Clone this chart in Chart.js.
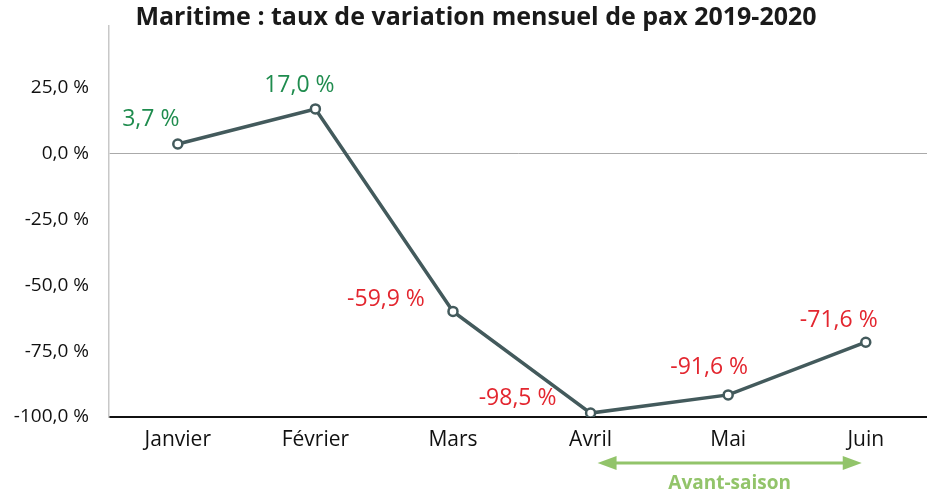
<!DOCTYPE html>
<html>
<head>
<meta charset="utf-8">
<script src="https://cdn.jsdelivr.net/npm/chart.js@4"></script>
<style>
html,body{margin:0;padding:0;background:#fff;}
#wrap{width:927px;height:495px;}
</style>
</head>
<body>
<div id="wrap"><canvas id="c" width="927" height="495"></canvas></div>
<script>
const titleText = "Maritime : taux de variation mensuel de pax 2019-2020";
const categories = ["Janvier", "Février", "Mars", "Avril", "Mai", "Juin"];
const variation = [3.7, 17.0, -59.9, -98.5, -91.6, -71.6];
const yTicks = [-100, -75, -50, -25, 0, 25];
const seasonLabel = "Avant-saison";
const seasonFrom = "Avril";
const seasonTo = "Juin";

const FONT = "'Open Sans', sans-serif";
const fmt = v => v.toFixed(1).replace('.', ',') + ' %';
// label offsets (dx, dy) relative to each point
const labelOffsets = [[-27,-25],[-16,-23],[-67,-12],[-73,-15],[-19,-27],[-27,-22]];

const overlay = {
  id: 'overlay',
  afterDatasetsDraw(chart) {
    const ctx = chart.ctx;
    const meta = chart.getDatasetMeta(0);
    ctx.save();
    ctx.font = "23px " + FONT;
    ctx.textAlign = 'center';
    ctx.textBaseline = 'middle';
    meta.data.forEach((pt, i) => {
      const v = variation[i];
      ctx.fillStyle = v >= 0 ? '#1f8c4e' : '#e3262f';
      const o = labelOffsets[i];
      ctx.fillText(fmt(v), pt.x + o[0], pt.y + o[1]);
    });
    // title
    ctx.fillStyle = '#1a1a1a';
    ctx.font = "bold 25px " + FONT;
    ctx.fillText(titleText, 476, 18);
    // season arrow
    const xs = chart.scales.x;
    const x1 = xs.getPixelForValue(categories.indexOf(seasonFrom)) + 7;
    const x2 = xs.getPixelForValue(categories.indexOf(seasonTo)) - 4;
    const y = 463;
    ctx.strokeStyle = '#92c46a';
    ctx.fillStyle = '#92c46a';
    ctx.lineWidth = 3;
    ctx.beginPath();
    ctx.moveTo(x1 + 14, y);
    ctx.lineTo(x2 - 14, y);
    ctx.stroke();
    ctx.beginPath();
    ctx.moveTo(x1, y); ctx.lineTo(x1 + 19, y - 7); ctx.lineTo(x1 + 19, y + 7); ctx.closePath(); ctx.fill();
    ctx.beginPath();
    ctx.moveTo(x2, y); ctx.lineTo(x2 - 19, y - 7); ctx.lineTo(x2 - 19, y + 7); ctx.closePath(); ctx.fill();
    ctx.font = "bold 19px " + FONT;
    ctx.fillText(seasonLabel, (x1 + x2) / 2, 484);
    ctx.restore();
  }
};

new Chart(document.getElementById('c'), {
  type: 'line',
  data: {
    datasets: [{
      data: variation.map((v, i) => ({x: i, y: v})),
      borderColor: '#435a5c',
      borderWidth: 3.5,
      pointRadius: 4.5,
      pointBackgroundColor: '#ffffff',
      pointBorderColor: '#435a5c',
      pointBorderWidth: 2.5,
      tension: 0
    }]
  },
  options: {
    responsive: false,
    animation: false,
    layout: {autoPadding: false, padding: {top: 26, left: 0, right: 0, bottom: 0}},
    plugins: {legend: {display: false}, tooltip: {enabled: false}, title: {display: false}},
    scales: {
      x: {
        type: 'linear',
        min: -0.5,
        max: 5.445,
        afterFit: s => { s.height = 78; s.paddingRight = 0; s.paddingLeft = 0; },
        afterBuildTicks: s => { s.ticks = categories.map((c, i) => ({value: i})); },
        ticks: {
          callback: v => categories[v],
          color: '#111',
          font: {family: FONT, size: 21},
          padding: 10,
          autoSkip: false,
          maxRotation: 0
        },
        grid: {display: false, drawTicks: false},
        border: {color: '#111', width: 2}
      },
      y: {
        min: -100,
        max: 48.5,
        afterFit: s => { s.width = 109; s.paddingTop = 0; s.paddingBottom = 0; },
        afterBuildTicks: s => { s.ticks = yTicks.map(v => ({value: v})); },
        ticks: {
          callback: v => fmt(v),
          color: '#111',
          font: {family: FONT, size: 19},
          padding: 20
        },
        grid: {
          color: c => (c.tick && c.tick.value === 0) ? '#aaaaaa' : 'rgba(0,0,0,0)',
          lineWidth: 1,
          drawTicks: false
        },
        border: {color: '#c8c8c8', width: 1.5}
      }
    }
  },
  plugins: [overlay]
});
</script>
</body>
</html>
